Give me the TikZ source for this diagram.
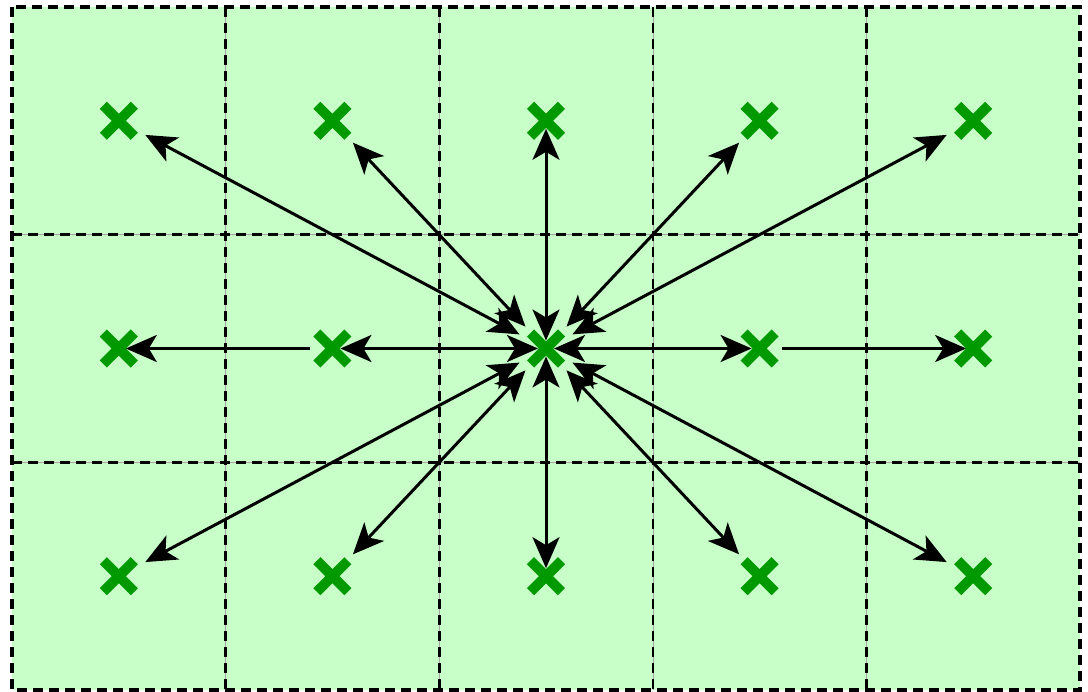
\documentclass[tikz,border=0pt]{standalone}
\usetikzlibrary{arrows.meta,shapes.misc}
\definecolor{bg}{RGB}{200,255,200}
\definecolor{xg}{RGB}{0,153,0}
\begin{document}
\begin{tikzpicture}[x=1pt,y=-1pt,
  >={Stealth[length=31pt,width=27pt,inset=8pt]},
  gridline/.style={draw=black, line width=2.6pt, dash pattern=on 10pt off 6pt},
  thinline/.style={draw=black!35, line width=0.5pt},
  outerline/.style={draw=black, line width=3.2pt, dash pattern=on 10pt off 6pt},
  xmark/.style={cross out, draw=xg, line width=10pt, minimum size=31pt, inner sep=0pt, outer sep=0pt},
  both/.style={line width=3pt, <->},
  single/.style={line width=3pt, ->, shorten <=22pt, shorten >=7pt},
  straight/.style={shorten <=8pt, shorten >=8pt},
  diag/.style={shorten <=30pt, shorten >=30pt}]
\useasboundingbox (0,0) rectangle (1088,692);
\fill[bg] (12,7) rectangle (1080,690);
% grid
\foreach \x in {225.6,439.2,652.8,866.4} {
  \draw[thinline] (\x,7) -- (\x,690);
  \draw[gridline] (\x,7) -- (\x,690);
}
\foreach \y in {234.7,462.3} {
  \draw[thinline] (12,\y) -- (1080,\y);
  \draw[gridline] (12,\y) -- (1080,\y);
}
\draw[outerline] (12,7) rectangle (1080,690);
% positions
\foreach \c in {1,...,5} {
  \foreach \r in {1,2,3} {
    \coordinate (p\r\c) at ({118.8+213.6*(\c-1)}, {120.8+227.7*(\r-1)});
  }
}
% arrows from centre
\draw[both,straight] (p23) -- (p22);
\draw[both,straight] (p23) -- (p24);
\draw[both,straight] (p23) -- (p13);
\draw[both,straight] (p23) -- (p33);
\foreach \t in {11,12,14,15,31,32,34,35} {
  \draw[both,diag] (p23) -- (p\t);
}
\draw[single] (p22) -- (p21);
\draw[single] (p24) -- (p25);
% crosses
\foreach \c in {1,...,5} {
  \foreach \r in {1,2,3} {
    \node[xmark] (x\r\c) at (p\r\c) {};
  }
}
\end{tikzpicture}
\end{document}
